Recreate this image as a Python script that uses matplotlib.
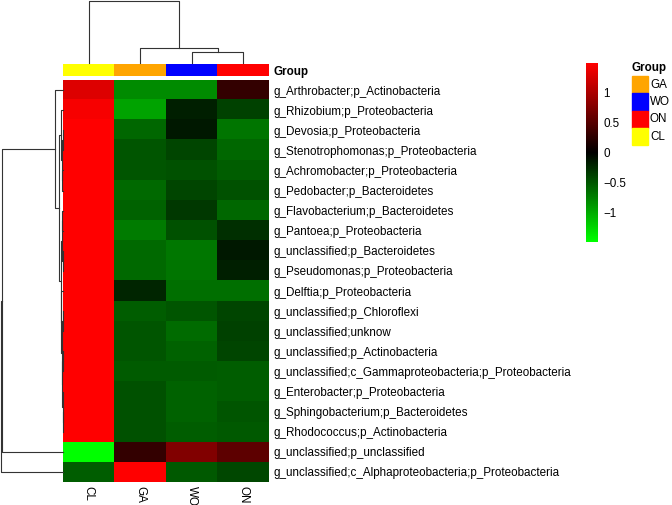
import numpy as np
import matplotlib
matplotlib.use("Agg")
import matplotlib.pyplot as plt
from matplotlib.colors import LinearSegmentedColormap, ListedColormap, Normalize
from matplotlib.cm import ScalarMappable
from matplotlib.patches import Rectangle

plt.rcParams['font.family'] = ['Liberation Sans', 'DejaVu Sans']
FS = 8.4

# column order as drawn
samples = ["CL", "GA", "WO", "ON"]
# legend order
groups = ["GA", "WO", "ON", "CL"]
group_colors = {"GA": "#FFA500", "WO": "#0000FF", "ON": "#FF0000", "CL": "#FFFF00"}

taxa = [
    "g_Arthrobacter;p_Actinobacteria",
    "g_Rhizobium;p_Proteobacteria",
    "g_Devosia;p_Proteobacteria",
    "g_Stenotrophomonas;p_Proteobacteria",
    "g_Achromobacter;p_Proteobacteria",
    "g_Pedobacter;p_Bacteroidetes",
    "g_Flavobacterium;p_Bacteroidetes",
    "g_Pantoea;p_Proteobacteria",
    "g_unclassified;p_Bacteroidetes",
    "g_Pseudomonas;p_Proteobacteria",
    "g_Delftia;p_Proteobacteria",
    "g_unclassified;p_Chloroflexi",
    "g_unclassified;unknow",
    "g_unclassified;p_Actinobacteria",
    "g_unclassified;c_Gammaproteobacteria;p_Proteobacteria",
    "g_Enterobacter;p_Proteobacteria",
    "g_Sphingobacterium;p_Bacteroidetes",
    "g_Rhodococcus;p_Actinobacteria",
    "g_unclassified;p_unclassified",
    "g_unclassified;c_Alphaproteobacteria;p_Proteobacteria",
]

# row z-scores
cl = [1.30, 1.45, 1.50, 1.50, 1.50, 1.50, 1.50, 1.50, 1.50, 1.50,
      1.50, 1.50, 1.50, 1.50, 1.50, 1.50, 1.50, 1.50, -1.50, -0.55]
ga = [-0.82, -0.95, -0.60, -0.50, -0.50, -0.62, -0.58, -0.72, -0.62, -0.62,
      -0.22, -0.55, -0.50, -0.50, -0.53, -0.47, -0.47, -0.47, 0.30, 1.50]
wo = [-0.82, -0.18, -0.15, -0.41, -0.47, -0.40, -0.33, -0.47, -0.70, -0.68,
      -0.65, -0.50, -0.63, -0.58, -0.53, -0.58, -0.58, -0.55, 0.75, -0.52]
on = [0.30, -0.38, -0.68, -0.60, -0.55, -0.47, -0.60, -0.27, -0.15, -0.18,
      -0.65, -0.40, -0.38, -0.40, -0.55, -0.55, -0.50, -0.52, 0.55, -0.42]

# dendrograms: (left, right, height), leaves are indices
col_tree = (0, (1, (2, 3, 0.17), 0.25), 1.0)
row_tree = (
    ((0,
      ((1, ((2, 3, 0.008), (4, 5, 0.01), 0.016), 0.03),
       (((6, 7, 0.01), (8, 9, 0.008), 0.02),
        (10, ((11, 12, 0.008), ((13, 14, 0.006), (15, (16, 17, 0.005), 0.008), 0.012), 0.015), 0.025),
        0.035),
       0.063),
      0.127),
     18, 0.985),
    19, 1.0)

W, H = 672, 505
fig = plt.figure(figsize=(W / 100, H / 100), dpi=100)


def px_axes(x0, y0, x1, y1):
    return fig.add_axes([x0 / W, 1 - y1 / H, (x1 - x0) / W, (y1 - y0) / H])


def draw_tree(ax, node, top):
    if isinstance(node, int):
        return node, 0.0
    a, b, h = node
    pa, ha = draw_tree(ax, a, top)
    pb, hb = draw_tree(ax, b, top)
    if top:
        ax.plot([pa, pa, pb, pb], [ha, h, h, hb], color="#333333", lw=0.8, clip_on=False)
    else:
        ax.plot([ha, h, h, hb], [pa, pa, pb, pb], color="#333333", lw=0.8, clip_on=False)
    return (pa + pb) / 2, h


cmap = LinearSegmentedColormap.from_list("gbr", ["#00FF00", "#000000", "#FF0000"])
norm = Normalize(-1.5, 1.5)
mat = np.column_stack([cl, ga, wo, on])

# heatmap
ax = px_axes(63, 80, 269, 482)
ax.imshow(mat, cmap=cmap, norm=norm, aspect="auto", interpolation="nearest")
ax.set_yticks(range(len(taxa)))
ax.set_yticklabels(taxa, fontsize=FS)
ax.yaxis.tick_right()
ax.set_xticks(range(len(samples)))
ax.set_xticklabels(samples, fontsize=FS, rotation=270, va="top")
ax.tick_params(length=0, pad=3)
for s in ax.spines.values():
    s.set_visible(False)

# group annotation bar
axg = px_axes(63, 64, 269, 76)
axg.imshow([list(range(4))], cmap=ListedColormap([group_colors[s] for s in samples]),
           aspect="auto", interpolation="nearest")
axg.set_xticks([])
axg.set_yticks([0])
axg.set_yticklabels(["Group"], fontsize=FS, fontweight="bold")
axg.yaxis.tick_right()
axg.tick_params(length=0, pad=3)
for s in axg.spines.values():
    s.set_visible(False)

# column dendrogram
axt = px_axes(63, 1, 269, 63)
draw_tree(axt, col_tree, True)
axt.set_xlim(-0.5, 3.5)
axt.set_ylim(0, 1.0)
axt.axis("off")

# row dendrogram
axl = px_axes(1, 80, 63, 482)
draw_tree(axl, row_tree, False)
axl.set_xlim(1.0, 0)
axl.set_ylim(19.5, -0.5)
axl.axis("off")

# colour bar
axc = px_axes(586, 63, 598, 242)
cb = fig.colorbar(ScalarMappable(norm=norm, cmap=cmap), cax=axc)
cb.outline.set_visible(False)
cb.set_ticks([-1, -0.5, 0, 0.5, 1])
cb.set_ticklabels(["\u22121", "\u22120.5", "0", "0.5", "1"])
axc.tick_params(length=0, pad=4, labelsize=FS)

# group legend
axk = px_axes(630, 60, 672, 150)
axk.set_xlim(0, 42)
axk.set_ylim(90, 0)
axk.axis("off")
axk.text(2, 8, "Group", fontsize=FS, fontweight="bold", va="center")
for i, g in enumerate(groups):
    axk.add_patch(Rectangle((2, 16 + i * 17.3), 16, 17.3, color=group_colors[g]))
    axk.text(20, 16 + i * 17.3 + 8.6, g, fontsize=FS, va="center")

fig.savefig("out.png", dpi=100)
